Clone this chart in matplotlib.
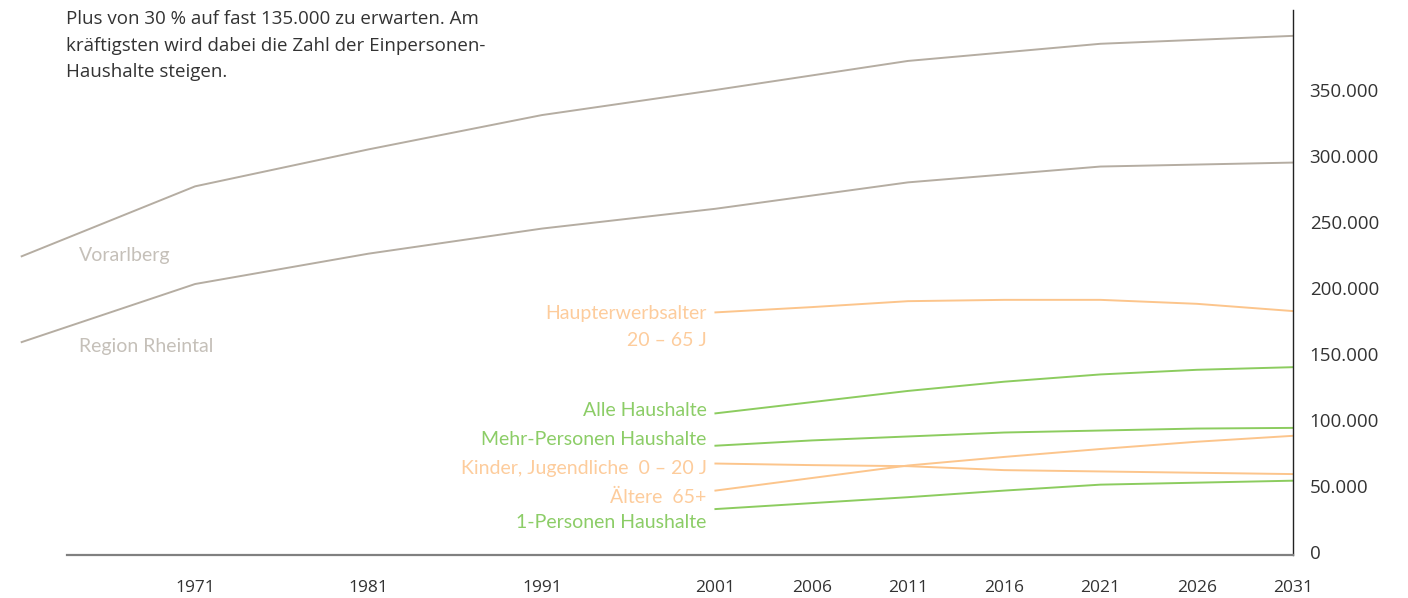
import numpy as np
import matplotlib.pyplot as plt

# years and values
years_long = [1961, 1971, 1981, 1991, 2001, 2011, 2021, 2031]
vorarlberg = [224000, 277000, 305000, 331000, 350000, 372000, 385000, 391000]
rheintal = [159000, 203000, 226000, 245000, 260000, 280000, 292000, 295000]

years_proj = [2001, 2006, 2011, 2016, 2021, 2026, 2031]
haupterwerb = [181500, 185500, 190000, 191000, 191000, 188000, 182500]
alle_hh = [105000, 113500, 122000, 129000, 134500, 138000, 140000]
mehr_pers = [80500, 84500, 87500, 90500, 92000, 93500, 94000]
kinder = [67000, 65800, 65000, 62000, 61000, 60000, 59000]
aeltere = [46500, 56000, 65500, 72000, 78000, 83500, 88000]
ein_pers = [32500, 37000, 41500, 46500, 51000, 52500, 54000]

year_ticks = [1971, 1981, 1991, 2001, 2006, 2011, 2016, 2021, 2026, 2031]
y_ticks = [0, 50000, 100000, 150000, 200000, 250000, 300000, 350000]

GRAY = "#b5ada2"
GRAY_TXT = "#c5c0b9"
ORANGE = "#fcc58c"
ORANGE_TXT = "#fdcc9c"
GREEN = "#8ccc5f"
GREEN_TXT = "#8ccd67"

# after 2001 the chart uses wider steps per year
k = 1.11
def fwd(x):
    x = np.asarray(x, dtype=float)
    return np.where(x <= 2001, x, 2001 + (x - 2001) * k)
def inv(u):
    u = np.asarray(u, dtype=float)
    return np.where(u <= 2001, u, 2001 + (u - 2001) / k)

fig = plt.figure(figsize=(14.08, 5.98), dpi=100)
ax = fig.add_axes([0.0, 0.0719, 0.9183, 0.9114])
ax.set_xscale("function", functions=(fwd, inv))

lw = 1.4
ax.plot(years_long, vorarlberg, color=GRAY, lw=lw, clip_on=False)
ax.plot(years_long, rheintal, color=GRAY, lw=lw, clip_on=False)
ax.plot(years_proj, haupterwerb, color=ORANGE, lw=lw)
ax.plot(years_proj, kinder, color=ORANGE, lw=lw)
ax.plot(years_proj, aeltere, color=ORANGE, lw=lw)
ax.plot(years_proj, alle_hh, color=GREEN, lw=lw)
ax.plot(years_proj, mehr_pers, color=GREEN, lw=lw)
ax.plot(years_proj, ein_pers, color=GREEN, lw=lw)

ax.set_xlim(1959.75, 2031)
ax.set_ylim(-2300, 410600)

for s in ["top", "left"]:
    ax.spines[s].set_visible(False)
ax.spines["right"].set_color("#222222")
ax.spines["right"].set_linewidth(1.0)
ax.spines["bottom"].set_color("#808080")
ax.spines["bottom"].set_linewidth(1.6)
ax.spines["bottom"].set_bounds(1963.6, 2031)

ax.yaxis.tick_right()
ax.set_yticks(y_ticks)
ax.set_yticklabels(["0" if v == 0 else f"{v:,}".replace(",", ".") for v in y_ticks])
ax.set_xticks(year_ticks)
ax.set_xticklabels([str(y) for y in year_ticks])
ax.tick_params(axis="both", length=0, colors="#333333")
ax.tick_params(axis="x", pad=18, labelsize=12.5)
ax.tick_params(axis="y", pad=12, labelsize=13.5)
for t in ax.get_xticklabels() + ax.get_yticklabels():
    t.set_fontfamily("Open Sans")

lab = dict(fontsize=14, family="Lato", va="center")
ax.text(1964.3, 224600, "Vorarlberg", color=GRAY_TXT, ha="left", **lab)
ax.text(1964.3, 156000, "Region Rheintal", color=GRAY_TXT, ha="left", **lab)

lx = 2000.5
ax.text(lx, 180500, "Haupterwerbsalter", color=ORANGE_TXT, ha="right", **lab)
ax.text(lx, 160000, "20 – 65 J", color=ORANGE_TXT, ha="right", **lab)
ax.text(lx, 107500, "Alle Haushalte", color=GREEN_TXT, ha="right", **lab)
ax.text(lx, 85500, "Mehr-Personen Haushalte", color=GREEN_TXT, ha="right", **lab)
ax.text(lx, 63000, "Kinder, Jugendliche  0 – 20 J", color=ORANGE_TXT, ha="right", **lab)
ax.text(lx, 41500, "Ältere  65+", color=ORANGE_TXT, ha="right", **lab)
ax.text(lx, 22000, "1-Personen Haushalte", color=GREEN_TXT, ha="right", **lab)

fig.text(66 / 1408, 1 - 10 / 598,
         "Plus von 30 % auf fast 135.000 zu erwarten. Am\n"
         "kräftigsten wird dabei die Zahl der Einpersonen-\n"
         "Haushalte steigen.",
         fontsize=13.5, family="Open Sans", color="#333333",
         ha="left", va="top", linespacing=1.62)

fig.savefig("out.png", dpi=100)
